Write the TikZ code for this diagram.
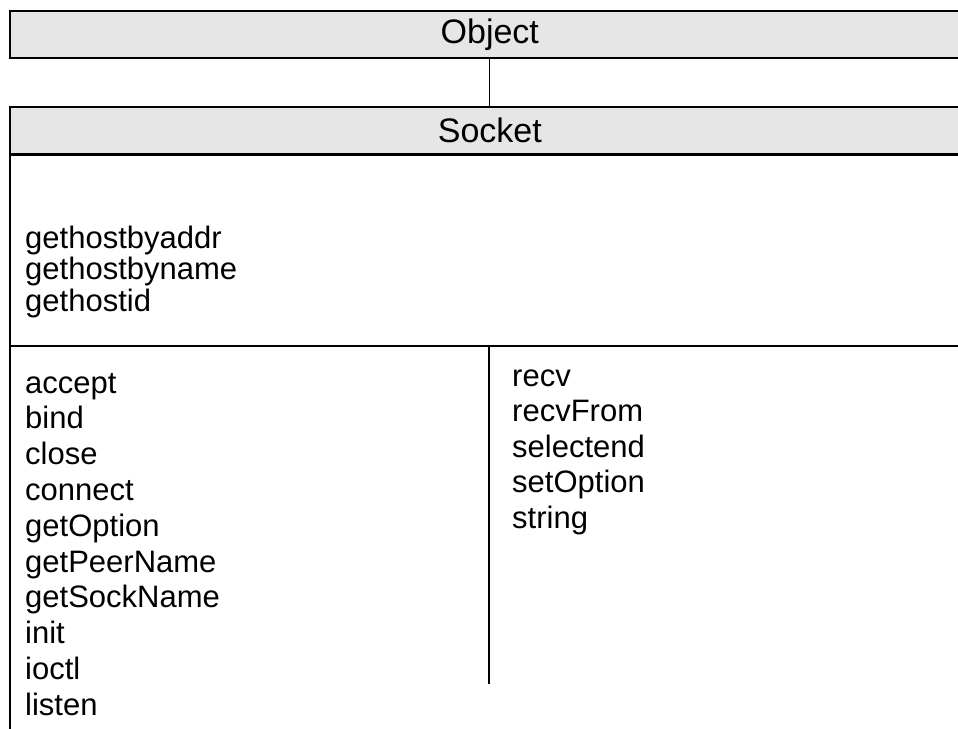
\documentclass[tikz,border=0pt]{standalone}
\usepackage{fontspec}
\setmainfont{Liberation Sans}
\definecolor{hdrfill}{HTML}{E6E6E6}
\tikzset{
  hdrbox/.style={draw=black, line width=1.6pt, fill=hdrfill, rectangle, inner sep=0pt,
    minimum width=960pt, minimum height=47pt, anchor=north west,
    font=\fontsize{34}{40}\selectfont},
  bodybox/.style={draw=black, line width=1.6pt, rectangle, inner sep=0pt,
    minimum width=960pt, minimum height=620pt, anchor=north west},
  rule/.style={draw=black, line width=1.6pt},
  item/.style={anchor=base west, inner sep=0pt, font=\fontsize{31}{36}\selectfont}
}
\begin{document}
\begin{tikzpicture}[x=1pt,y=1pt]
\useasboundingbox (0,0) rectangle (958,-728);
\clip (0,0) rectangle (958,-728);
\fill[white] (0,0) rectangle (958,-728);
% Object class
\node[hdrbox] (object) at (9,-10) {Object};
% Socket class
\node[hdrbox] (socket) at (9,-106) {Socket};
\node[bodybox] (body) at (9,-154) {};
% inheritance connector
\draw[rule, line width=1.2pt] (object.south) -- (socket.north);
% separator between attributes and methods
\coordinate (sepL) at (9,-346);
\coordinate (sepR) at (969,-346);
\draw[rule] (sepL) -- (sepR);
% column divider
\coordinate (divT) at (489,-346);
\coordinate (divB) at (489,-684);
\draw[rule, line width=1.2pt] (divT) -- (divB);
% class-level methods
\foreach \t [count=\i] in {gethostbyaddr,gethostbyname,gethostid}
  \node[item] (a\i) at (25,{-248-(\i-1)*31.5}) {\t};
% instance methods, left column
\foreach \t [count=\i] in {accept,bind,close,connect,getOption,getPeerName,getSockName,init,ioctl,listen}
  \node[item] (m\i) at (25,{-393-(\i-1)*35.8}) {\t};
% instance methods, right column
\foreach \t [count=\i] in {recv,recvFrom,selectend,setOption,string}
  \node[item] (r\i) at (512,{-386-(\i-1)*35.5}) {\t};
\end{tikzpicture}
\end{document}
